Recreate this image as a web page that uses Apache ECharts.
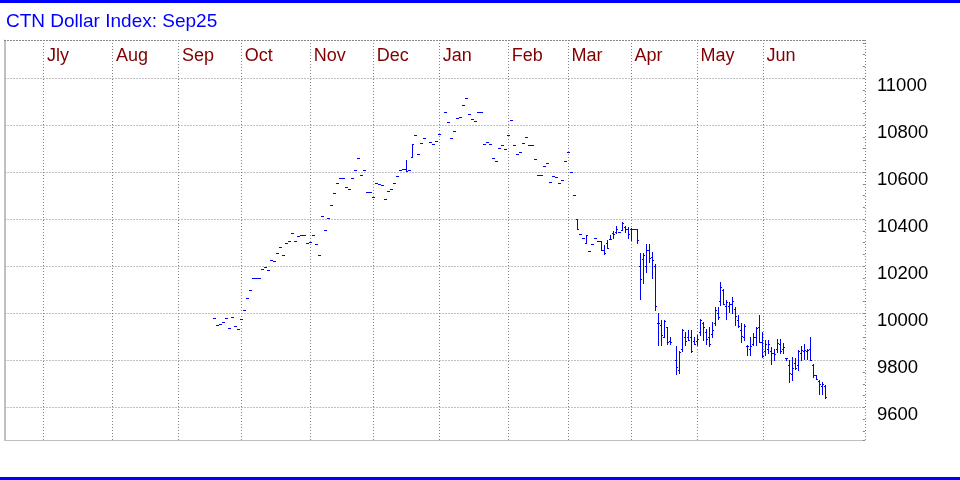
<!DOCTYPE html>
<html><head><meta charset="utf-8">
<script src="https://cdn.jsdelivr.net/npm/echarts@6/dist/echarts.min.js"></script>
<style>html,body{margin:0;padding:0;background:#fff}#c{width:960px;height:480px}</style>
</head><body><div id="c"></div>
<script>
const chartTitle = 'CTN Dollar Index: Sep25';
// x axis: one slot per weekday
const monthNames = ['Jly','Aug','Sep','Oct','Nov','Dec','Jan','Feb','Mar','Apr','May','Jun'];
const monthWeekdays = [23,22,21,23,21,22,23,20,21,22,22,21];
const leadWeekdays = 13;
const trailWeekdays = 13;
// y axis
const yMin = 9461, yMax = 11162, yStep = 200, yFirstLabel = 9600, yLastLabel = 11000;

// settlement-only days (flat bars), starting at weekday slot 70
const settleDay0 = 70;
const settles = [
 9979,9949,9953,9962,9979,9936,9983,9945,9932,9974,
 10013,10064,10098,10149,10149,10149,10187,10196,10183,10226,
 10221,10255,10281,10247,10298,10306,10340,10306,10328,10332,
 10332,10298,10302,10332,10294,10247,10413,10353,10404,10460,
 10511,10553,10574,10574,10536,10528,10574,10608,10660,10587,
 10608,10515,10515,10494,10553,10549,10545,10485,10519,10528,
 10553,10583,10608,10613,10603,10608,10720,10757,10677,10723,
 10745,null,10728,10719,10732,10762,null,10855,10813,10745,
 10775,10830,10834,10885,10915,10847,10826,10817,10855,10855,
 10719,10728,10719,10660,10647,10702,10715,10698,10757,10821,
 10715,10677,10685,10723,10749,10715,10715,10655,10587,10587,
 10625,10638,10557,10583,10579,10553,10566,10647,10685,10600,
 10502
];
// the few early days that had an intraday range
const earlyBarDays = [134, 136];
const earlyOpens = [10613, 10664];
const earlyHighs = [10652, 10720];
const earlyLows  = [10603, 10664];

// full OHLC bars, starting at weekday slot 191
const barDay0 = 191;
const opens = [
 10400,10336,10319,10298,10265,10294,10319,10308,10308,10268,
 10300,10315,10340,10345,10345,10353,10366,10357,10357,10357,
 10357,10200,10230,10200,10270,10240,10200,9959,9950,9900,
 9940,9880,null,9800,9760,9850,9900,9900,9900,9880,
 9880,9920,9960,9920,9900,9910,9960,10000,10050,10100,
 10030,10030,10040,10020,9970,9930,9900,9860,9850,9870,
 9900,9940,9879,9840,9850,9840,9830,9850,9870,9850,
 9811,9780,9740,9790,9780,9830,9840,9840,9850,9780,
 9736,9710,9690,9690
];
const highs = [
 10400,10336,10319,10332,10265,10294,10319,10308,10308,10289,
 10311,10332,10349,10370,10345,10387,10370,10365,10362,10357,
 10357,10255,10255,10294,10294,10261,10211,9999,9970,9970,
 9942,9899,null,9860,9840,9931,9921,9928,9928,9899,
 9906,9977,9963,9931,9942,9963,10027,10027,10133,10105,
 10055,10048,10070,10027,9992,9957,9953,9864,9900,9914,
 9943,9993,9919,9886,9886,9857,9846,9889,9889,9874,
 9811,9800,9814,9810,9843,9860,9871,9850,9897,9786,
 9736,9717,9707,9693
];
const lows = [
 10357,10336,10319,10298,10265,10294,10319,10308,10268,10251,
 10277,10315,10319,10340,10345,10353,10345,10320,10311,10357,
 10298,10061,10130,10176,10216,10148,10013,9864,9864,9899,
 9871,9871,null,9743,9746,9840,9864,9885,9834,9871,
 9864,9906,9885,9871,9860,9899,9949,9977,10034,10038,
 9977,10006,9999,9949,9942,9876,9886,9821,9821,9864,
 9864,9879,9814,9821,9829,9786,9800,9836,9829,9829,
 9800,9707,9717,9764,9757,9800,9807,9807,9800,9729,
 9719,9657,9657,9639
];
const closes = [
 10357,10336,10319,10332,10265,10294,10319,10308,10268,10255,
 10277,10315,10336,10357,10345,10383,10357,10336,10357,10357,
 10311,10145,10247,10268,10237,10228,10030,9959,9906,9967,
 9878,9878,null,9772,9836,9928,9881,9888,9840,9871,
 9892,9973,9942,9892,9871,9928,10013,9982,10112,10038,
 10048,10041,10051,9987,9946,9903,9946,9860,9860,9897,
 9939,9879,9817,9871,9871,9831,9826,9874,9840,9857,
 9811,9746,9767,9767,9839,9843,9843,9843,9803,9739,
 9719,9700,9700,9643
];

// ---- build categories ----
const categories = [];
const monthStart = {};
for (let i = 0; i < leadWeekdays; i++) categories.push('pre' + i);
monthNames.forEach((m, k) => {
  monthStart[categories.length] = m;
  for (let d = 0; d < monthWeekdays[k]; d++) categories.push(m + '-' + d);
});
for (let i = 0; i < trailWeekdays; i++) categories.push('post' + i);

// ---- build bar data: [slot, open, high, low, close] ----
const bars = [];
settles.forEach((c, i) => {
  if (c == null) return;
  const day = settleDay0 + i;
  const k = earlyBarDays.indexOf(day);
  if (k >= 0) bars.push([day, earlyOpens[k], earlyHighs[k], earlyLows[k], c]);
  else bars.push([day, c, c, c, c]);
});
closes.forEach((c, i) => {
  if (c == null) return;
  bars.push([barDay0 + i, opens[i], highs[i], lows[i], c]);
});

const BLUE = '#0000ff';
const GRID = '#808080';
const BORDER = '#c0c0c0';
const FONT = '"Liberation Sans", Arial, sans-serif';

function renderBar(params, api) {
  const x = api.value(0);
  const po = api.coord([x, api.value(1)]);
  const ph = api.coord([x, api.value(2)]);
  const pl = api.coord([x, api.value(3)]);
  const pc = api.coord([x, api.value(4)]);
  const px = Math.round(pc[0] - 2.0);
  const yh = Math.round(ph[1]), yl = Math.round(pl[1]);
  const st = { fill: BLUE, stroke: null };
  return {
    type: 'group',
    children: [
      { type: 'rect', shape: { x: px, y: yh, width: 1, height: Math.max(1, yl - yh + 1) }, style: st },
      { type: 'rect', shape: { x: px - 1, y: Math.round(po[1]), width: 1, height: 1 }, style: st },
      { type: 'rect', shape: { x: px + 1, y: Math.round(pc[1]), width: 1, height: 1 }, style: st }
    ]
  };
}

const hidden = {
  axisLine: { show: false }, axisTick: { show: false }, minorTick: { show: false },
  axisLabel: { show: false }, splitLine: { show: false }, minorSplitLine: { show: false }
};

const chart = echarts.init(document.getElementById('c'), null, { renderer: 'canvas' });
const isMonth = (idx) => monthStart[idx] !== undefined;
chart.setOption({
  animation: false,
  backgroundColor: '#ffffff',
  title: {
    text: chartTitle, left: 6, top: 12, padding: 0,
    textStyle: { color: BLUE, fontSize: 19, fontWeight: 'normal', fontFamily: FONT }
  },
  graphic: [
    { type: 'rect', left: 0, top: 0, shape: { width: 960, height: 3 }, style: { fill: BLUE } },
    { type: 'rect', left: 0, top: 477, shape: { width: 960, height: 3 }, style: { fill: BLUE } },
    { type: 'rect', left: 5, top: 40, shape: { width: 1, height: 400 }, style: { fill: BORDER } }
  ],
  grid: { left: 4.5, top: 40, width: 860.4, height: 400, containLabel: false },
  xAxis: [{
    type: 'category', position: 'top', data: categories, boundaryGap: true,
    axisLine: { show: true, lineStyle: { color: GRID, type: [1, 2], width: 1 } },
    axisTick: { show: false }, minorTick: { show: false },
    axisLabel: {
      inside: true, interval: (idx) => isMonth(idx),
      formatter: (v, idx) => monthStart[idx] || '',
      color: '#800000', fontSize: 18, fontFamily: FONT, align: 'left', margin: 7, padding: [0, 0, 0, 2]
    },
    splitLine: { show: true, interval: (idx) => isMonth(idx), lineStyle: { color: GRID, type: [1, 2], width: 1 } }
  }, Object.assign({}, hidden, {
    type: 'value', position: 'bottom', min: 0, max: 1,
    axisLine: { show: true, lineStyle: { color: BORDER, width: 1 } }
  })],
  yAxis: [{
    type: 'value', position: 'right', min: yMin, max: yMax, splitNumber: 8,
    axisLine: { show: true, lineStyle: { color: BORDER, width: 1 } },
    axisTick: { show: false }, minorTick: { show: false },
    axisLabel: {
      color: '#000', fontSize: 18.5, lineHeight: 15, fontFamily: FONT, align: 'left', margin: 12, verticalAlign: 'top',
      formatter: (v) => (v % yStep === 0 && v >= yFirstLabel && v <= yLastLabel) ? String(v) : ''
    },
    splitLine: { show: true, lineStyle: { color: GRID, type: [1, 2], width: 1 } }
  }, Object.assign({}, hidden, {
    // small 50-point ticks inside the right edge
    type: 'value', position: 'right', min: yMin, max: yMax, splitNumber: 34,
    axisTick: { show: true, inside: true, length: 2, lineStyle: { color: GRID } }
  })],
  series: [{
    type: 'custom', name: 'CTN Dollar Index', xAxisIndex: 0, yAxisIndex: 0,
    data: bars, encode: { x: 0, y: [1, 2, 3, 4] },
    renderItem: renderBar, clip: false
  }]
});
</script></body></html>
